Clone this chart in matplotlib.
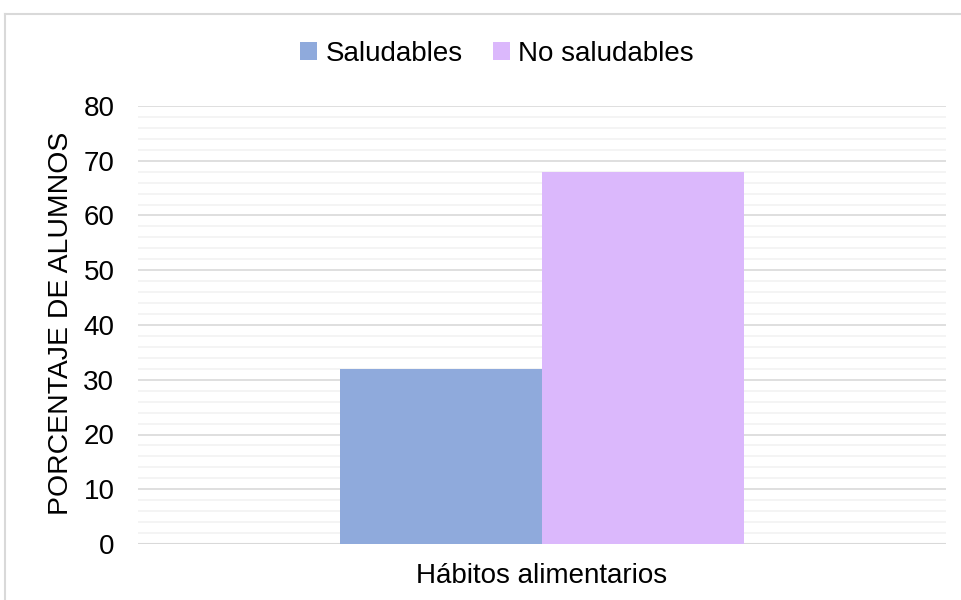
import matplotlib
matplotlib.use("Agg")
import matplotlib.pyplot as plt
from matplotlib.lines import Line2D
from matplotlib.patches import Patch
from matplotlib.ticker import MultipleLocator

plt.rcParams['font.family'] = ['Liberation Sans', 'DejaVu Sans']

category = "Hábitos alimentarios"
series_names = ["Saludables", "No saludables"]
values = [32, 68]
colors = ["#8FAADC", "#DBB8FC"]
y_ticks = [0, 10, 20, 30, 40, 50, 60, 70, 80]
y_label = "PORCENTAJE DE ALUMNOS"

W, H = 961, 600
fig = plt.figure(figsize=(W / 100, H / 100), dpi=100)
ax = fig.add_axes([138 / W, (H - 544) / H, 808 / W, 438 / H])

bw = 0.25
offsets = [-bw / 2, bw / 2]
for name, v, c, off in zip(series_names, values, colors, offsets):
    ax.bar(off, v, width=bw, color=c, label=name, zorder=3)

ax.set_xlim(-0.5, 0.5)
ax.set_ylim(0, 80)
ax.set_yticks(y_ticks)
ax.yaxis.set_minor_locator(MultipleLocator(2))
ax.grid(axis='y', which='major', color='#D9D9D9', lw=1.2, zorder=0)
ax.grid(axis='y', which='minor', color='#F2F2F2', lw=1.2, zorder=0)
ax.set_xticks([0])
ax.set_xticklabels([category], fontsize=20, color='#000000')
ax.tick_params(axis='both', which='both', length=0, labelsize=20, colors='#000000')
ax.tick_params(axis='y', pad=17)
ax.tick_params(axis='x', pad=14)
for s in ax.spines.values():
    s.set_visible(False)
ax.axhline(0, color='#D9D9D9', lw=1.5, zorder=2)
ax.set_ylabel(y_label, fontsize=20.4)
ax.yaxis.set_label_coords(-0.079, 0.503)

handles = [Patch(facecolor=c, edgecolor='none') for c in colors]
fig.legend(handles, series_names, loc='center', bbox_to_anchor=(497 / W, 1 - 54 / H),
           ncol=2, frameon=False, fontsize=20, handlelength=0.6, handleheight=0.6,
           handletextpad=0.3, columnspacing=1.1)

fig.add_artist(Line2D([5 / W, 1], [1 - 14 / H, 1 - 14 / H], color='#D9D9D9', lw=1.5, transform=fig.transFigure))
fig.add_artist(Line2D([5 / W, 5 / W], [0, 1 - 14 / H], color='#D9D9D9', lw=1.5, transform=fig.transFigure))

fig.savefig("out.png", dpi=100)
